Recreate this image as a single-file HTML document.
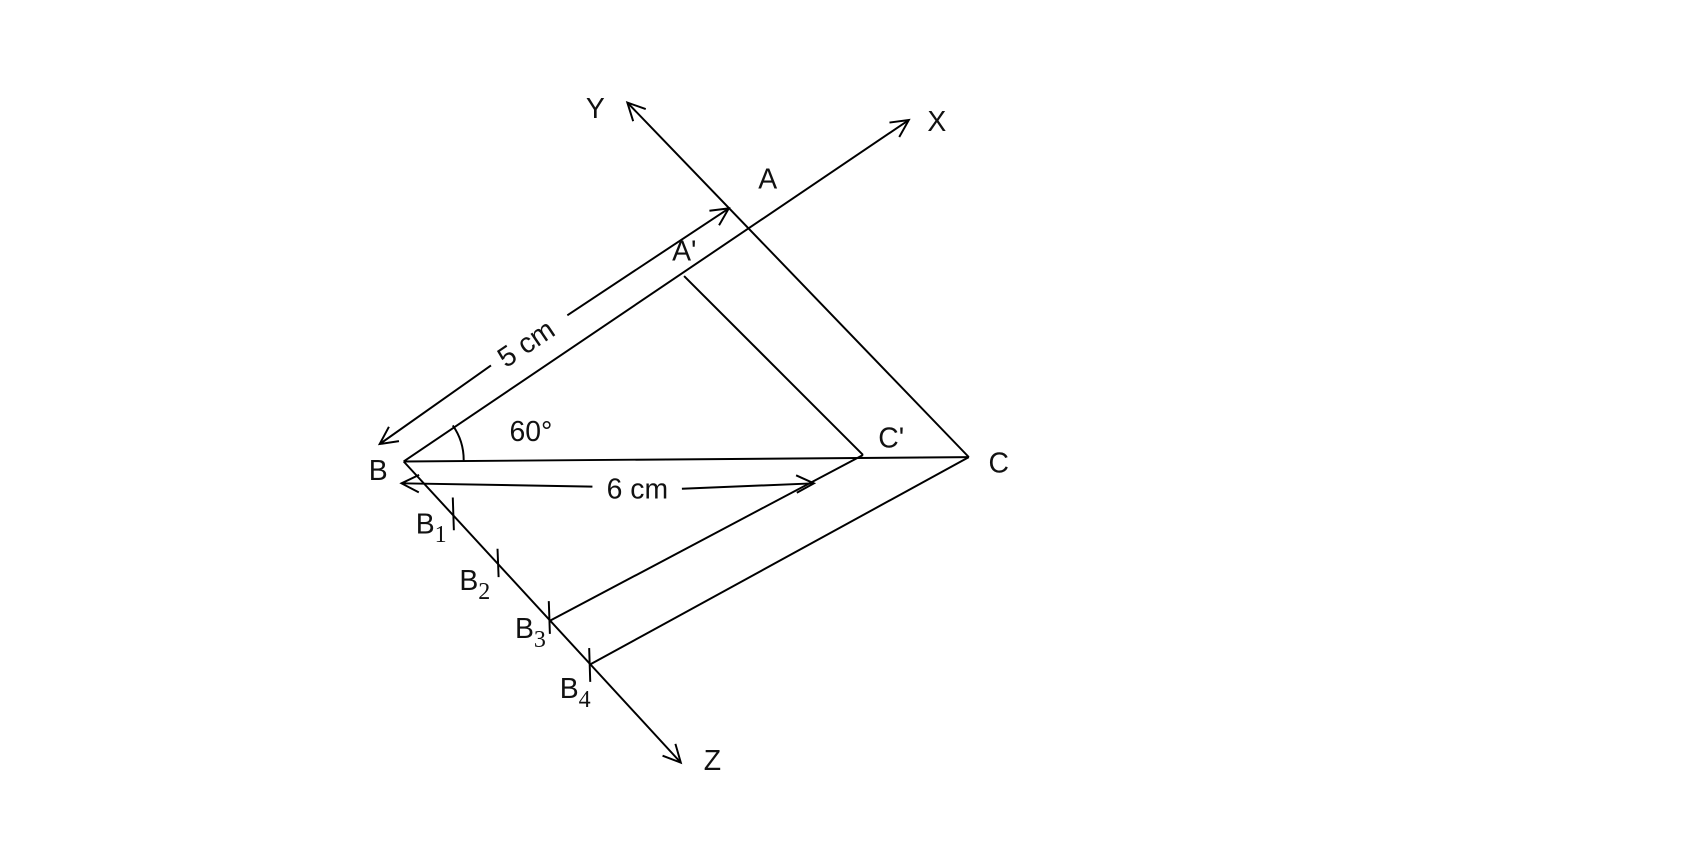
<!DOCTYPE html>
<html><head><style>
html,body{margin:0;padding:0;background:#fff;width:1702px;height:844px;overflow:hidden}
text{font-family:"Liberation Sans",sans-serif;font-size:26px;fill:#111}
.s{font-family:"Liberation Serif",serif;font-size:22px}
</style></head><body>
<svg width="1702" height="844" viewBox="0 0 1560 773.6" xmlns="http://www.w3.org/2000/svg">
<defs>
<marker id="a" markerUnits="userSpaceOnUse" markerWidth="24" markerHeight="24" refX="18" refY="12" orient="auto" viewBox="0 0 24 24">
<polyline points="2,4 18,12 2,20" fill="none" stroke="#000" stroke-width="1.8"/>
</marker>
</defs>
<g transform="translate(-2,-2)">
<g stroke="#000" stroke-width="1.8" fill="none">
<line x1="890" y1="421" x2="577" y2="96" marker-end="url(#a)"/>
<line x1="372" y1="425" x2="835" y2="112" marker-end="url(#a)"/>
<line x1="372" y1="425" x2="626" y2="701" marker-end="url(#a)"/>
<line x1="372" y1="425" x2="890" y2="421"/>
<line x1="629" y1="255" x2="793" y2="419"/>
<line x1="506" y1="571" x2="793" y2="419"/>
<line x1="543" y1="611" x2="890" y2="421"/>
<line x1="452" y1="337" x2="350" y2="409" marker-end="url(#a)"/>
<line x1="522" y1="291" x2="670" y2="193" marker-end="url(#a)"/>
<line x1="545" y1="448" x2="370" y2="445" marker-end="url(#a)"/>
<line x1="627" y1="450" x2="748" y2="445" marker-end="url(#a)"/>
<path d="M417,392 A55,55 0 0 1 427,424"/>
<line x1="417" y1="458" x2="418" y2="488"/>
<line x1="458" y1="505" x2="459" y2="531"/>
<line x1="505" y1="553" x2="506" y2="583"/>
<line x1="542" y1="596" x2="543" y2="627"/>
</g>
</g>
<text x="537" y="108">Y</text>
<text x="850" y="120">X</text>
<text x="695" y="173">A</text>
<text x="616" y="239">A'</text>
<text x="338" y="440">B</text>
<text x="906" y="433">C</text>
<text x="805" y="410">C'</text>
<text x="467" y="404">60°</text>
<text x="645" y="706">Z</text>
<text x="556" y="457">6 cm</text>
<text transform="translate(487,322) rotate(-34)" text-anchor="middle">5 cm</text>
<text x="381" y="489">B<tspan class="s" dy="8">1</tspan></text>
<text x="421" y="541">B<tspan class="s" dy="8">2</tspan></text>
<text x="472" y="585">B<tspan class="s" dy="8">3</tspan></text>
<text x="513" y="640">B<tspan class="s" dy="8">4</tspan></text>
</svg>
</body></html>
